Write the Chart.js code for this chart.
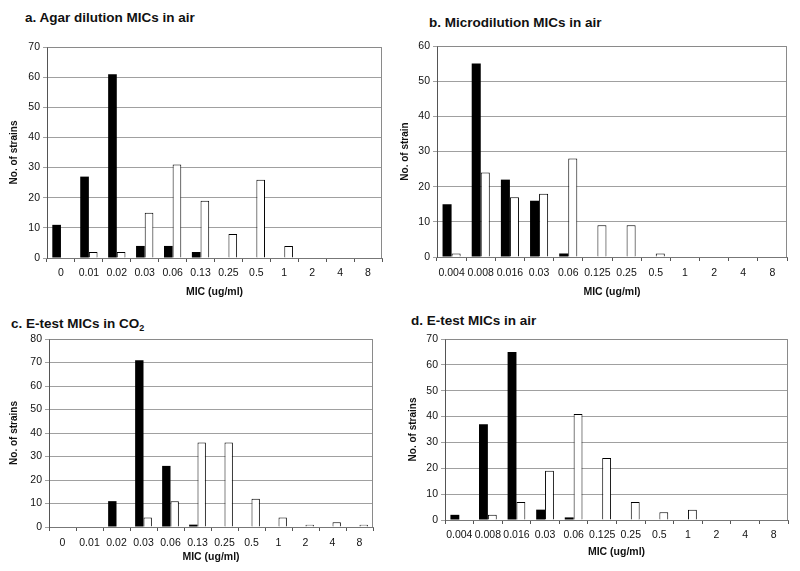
<!DOCTYPE html>
<html>
<head>
<meta charset="utf-8">
<script src="https://cdn.jsdelivr.net/npm/chart.js@4"></script>
<style>
  body { margin: 0; background: #fff; width: 800px; height: 571px; position: relative; overflow: hidden; font-family: "Liberation Sans", Arial, sans-serif; }
  canvas { position: absolute; }
  .ttl { position: absolute; font-weight: bold; font-size: 13.5px; color: #111; white-space: nowrap; line-height: 16px; }
  .ttl sub { font-size: 9px; vertical-align: -3px; }
</style>
</head>
<body>
<div class="ttl" style="left:25px;top:10px">a. Agar dilution MICs in air</div>
<div class="ttl" style="left:429px;top:15px">b. Microdilution MICs in air</div>
<div class="ttl" style="left:11px;top:316px">c. E-test MICs in CO<sub>2</sub></div>
<div class="ttl" style="left:411px;top:313px">d. E-test MICs in air</div>

<canvas id="chartA" width="400" height="270" style="left:0px;top:30px"></canvas>
<canvas id="chartB" width="408" height="270" style="left:392px;top:30px"></canvas>
<canvas id="chartC" width="400" height="261" style="left:0px;top:310px"></canvas>
<canvas id="chartD" width="405" height="261" style="left:395px;top:310px"></canvas>

<script>
// MIC categories
const micA = ['0', '0.01', '0.02', '0.03', '0.06', '0.13', '0.25', '0.5', '1', '2', '4', '8'];
const micB = ['0.004', '0.008', '0.016', '0.03', '0.06', '0.125', '0.25', '0.5', '1', '2', '4', '8'];

// a. Agar dilution MICs in air
const agarBlack = [11, 27, 61, 4, 4, 2, 0, 0, 0, 0, 0, 0];
const agarWhite = [0, 2, 2, 15, 31, 19, 8, 26, 4, 0, 0, 0];
// b. Microdilution MICs in air
const microBlack = [15, 55, 22, 16, 1, 0, 0, 0, 0, 0, 0, 0];
const microWhite = [1, 24, 17, 18, 28, 9, 9, 1, 0, 0, 0, 0];
// c. E-test MICs in CO2
const etestCo2Black = [0, 0, 11, 71, 26, 1, 0, 0, 0, 0, 0, 0];
const etestCo2White = [0, 0, 0, 4, 11, 36, 36, 12, 4, 1, 2, 1];
// d. E-test MICs in air
const etestAirBlack = [2, 37, 65, 4, 1, 0, 0, 0, 0, 0, 0, 0];
const etestAirWhite = [0, 2, 7, 19, 41, 24, 7, 3, 4, 0, 0, 0];

const font = "'Liberation Sans', Arial, sans-serif";

// gray box around the plot area like the excel charts
const frame = {
  id: 'frame',
  afterDraw(chart) {
    const a = chart.chartArea, c = chart.ctx;
    c.save();
    c.strokeStyle = '#8a8a8a';
    c.lineWidth = 1;
    c.beginPath();
    c.moveTo(a.left + 0.5, a.top + 0.5);
    c.lineTo(a.right - 0.5, a.top + 0.5);
    c.lineTo(a.right - 0.5, a.bottom);
    c.stroke();
    c.restore();
  }
};

function makeChart(id, labels, black, white, p) {
  return new Chart(document.getElementById(id), {
    type: 'bar',
    data: {
      labels: labels,
      datasets: [{
        data: black,
        backgroundColor: '#000',
        borderColor: '#000',
        borderWidth: 0
      }, {
        data: white,
        backgroundColor: '#fff',
        borderColor: '#000',
        borderWidth: ctx => ctx.raw > 0 ? 1 : 0
      }]
    },
    options: {
      responsive: false,
      animation: false,
      layout: { padding: { left: 0, top: p.top, right: p.right, bottom: 0 } },
      datasets: { bar: { categoryPercentage: 0.62, barPercentage: 1 } },
      plugins: { legend: { display: false }, tooltip: { enabled: false } },
      scales: {
        x: {
          afterFit: s => { s.height = p.xh; },
          grid: { drawOnChartArea: false, drawTicks: true, tickLength: 4, color: '#555' },
          border: { color: '#777' },
          ticks: { color: '#111', font: { family: font, size: 10.5 }, padding: p.tickPad, maxRotation: 0, autoSkip: false },
          title: { display: true, text: 'MIC (ug/ml)', color: '#111', font: { family: font, size: 10.5, weight: 'bold' }, padding: { top: 0, bottom: p.xTitlePad } }
        },
        y: {
          min: 0,
          max: p.max,
          afterFit: s => { s.width = p.yw; },
          grid: { color: '#a0a0a0', tickLength: 4 },
          border: { color: '#555' },
          ticks: { stepSize: 10, color: '#111', font: { family: font, size: 10.5 }, padding: 3 },
          title: { display: true, text: p.ytitle, color: '#111', font: { family: font, size: 10, weight: 'bold' }, padding: { top: p.yTitlePad, bottom: 0 } }
        }
      }
    },
    plugins: [frame]
  });
}

makeChart('chartA', micA, agarBlack, agarWhite,
  { top: 17, right: 18, xh: 42, yw: 47, max: 70, tickPad: 5, xTitlePad: 2, yTitlePad: 8, ytitle: 'No. of strains' });
makeChart('chartB', micB, microBlack, microWhite,
  { top: 16, right: 13, xh: 43, yw: 45, max: 60, tickPad: 6, xTitlePad: 2, yTitlePad: 7, ytitle: 'No. of strain' });
makeChart('chartC', micA, etestCo2Black, etestCo2White,
  { top: 29, right: 27, xh: 44, yw: 49, max: 80, tickPad: 6, xTitlePad: 8, yTitlePad: 8, ytitle: 'No. of strains' });
makeChart('chartD', micB, etestAirBlack, etestAirWhite,
  { top: 29, right: 12, xh: 51, yw: 50, max: 70, tickPad: 5, xTitlePad: 13, yTitlePad: 12, ytitle: 'No. of strains' });
</script>
</body>
</html>
